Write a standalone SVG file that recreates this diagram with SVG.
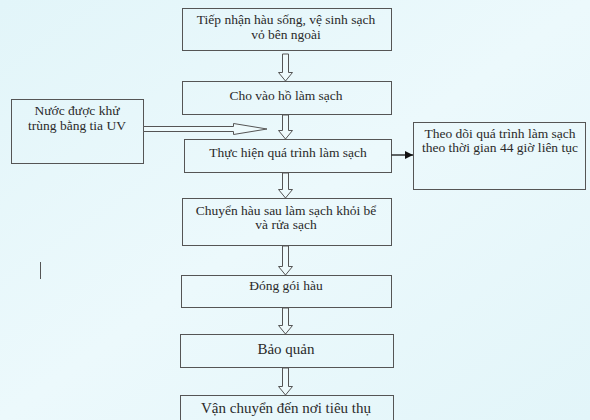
<svg xmlns="http://www.w3.org/2000/svg" width="590" height="420" viewBox="0 0 590 420">
<defs>
<linearGradient id="bg" x1="0" y1="0" x2="1" y2="1">
<stop offset="0" stop-color="#e2f5f9"/>
<stop offset="0.5" stop-color="#ecf9fc"/>
<stop offset="1" stop-color="#e2f5f9"/>
</linearGradient>
<marker id="ah" viewBox="0 0 10 10" refX="10" refY="5" markerWidth="8" markerHeight="8" markerUnits="userSpaceOnUse" orient="auto">
<path d="M0,0 L10,5 L0,10 z" fill="#111"/>
</marker>
</defs>
<style>
.box{fill:none;stroke:#555;stroke-width:1}
text{font-family:'Liberation Serif',serif;font-size:13.5px;fill:#2a2a2a;text-anchor:middle}
.tb{font-size:15px}
.ha{fill:#eefafc;stroke:#555;stroke-width:1}
</style>
<rect width="590" height="420" fill="url(#bg)"/>
<g id="n1"><rect class="box" x="182.5" y="8.5" width="209" height="42"/><text x="286" y="24">Tiếp nhận hàu sống, vệ sinh sạch</text><text x="286" y="39">vỏ bên ngoài</text></g>
<g id="n2"><rect class="box" x="182.5" y="81.5" width="209" height="33"/><text x="286" y="100">Cho vào hồ làm sạch</text></g>
<g id="n3"><rect class="box" x="184.5" y="139.5" width="207" height="33"/><text x="288" y="157">Thực hiện quá trình làm sạch</text></g>
<g id="n4"><rect class="box" x="413.5" y="122.5" width="172" height="67"/><text x="500" y="138">Theo dõi quá trình làm sạch</text><text x="500" y="152">theo thời gian 44 giờ liên tục</text></g>
<g id="n5"><rect class="box" x="11.5" y="99.5" width="132" height="64"/><text x="77" y="115">Nước được khử</text><text x="77" y="130">trùng bằng tia UV</text></g>
<g id="n6"><rect class="box" x="182.5" y="198.5" width="209" height="47"/><text x="286" y="215">Chuyển hàu sau làm sạch khỏi bể</text><text x="286" y="229">và rửa sạch</text></g>
<g id="n7"><rect class="box" x="181.5" y="275.5" width="210" height="32"/><text x="286" y="290">Đóng gói hàu</text></g>
<g id="n8"><rect class="box" x="180.5" y="334.5" width="213" height="33"/><text class="tb" x="286" y="354">Bảo quản</text></g>
<g id="n9"><rect class="box" x="180.5" y="395.5" width="213" height="30"/><text class="tb" x="286" y="413">Vận chuyển đến nơi tiêu thụ</text></g>
<g id="connectors">
<path class="ha" d="M282.5,54 H288.5 V72.5 H292.5 L285.5,81 L278.5,72.5 H282.5 Z"/>
<path class="ha" d="M282.5,115 H288.5 V130.5 H292.5 L285.5,139 L278.5,130.5 H282.5 Z"/>
<path class="ha" d="M282.5,173 H288.5 V189.5 H292.5 L285.5,198 L278.5,189.5 H282.5 Z"/>
<path class="ha" d="M282.5,246 H288.5 V266.5 H292.5 L285.5,275 L278.5,266.5 H282.5 Z"/>
<path class="ha" d="M282.5,308 H288.5 V325.5 H292.5 L285.5,334 L278.5,325.5 H282.5 Z"/>
<path class="ha" d="M282.5,368 H288.5 V386.5 H292.5 L285.5,395 L278.5,386.5 H282.5 Z"/>
<path class="ha" d="M143.5,126.5 H233.5 V123.5 L267,129 L233.5,134.5 V131.5 H143.5 Z"/>
<line x1="391.5" y1="155" x2="413" y2="155" stroke="#111" stroke-width="1.3" marker-end="url(#ah)"/>
</g>
<line x1="40.5" y1="262" x2="40.5" y2="279" stroke="#555" stroke-width="1"/>
</svg>
